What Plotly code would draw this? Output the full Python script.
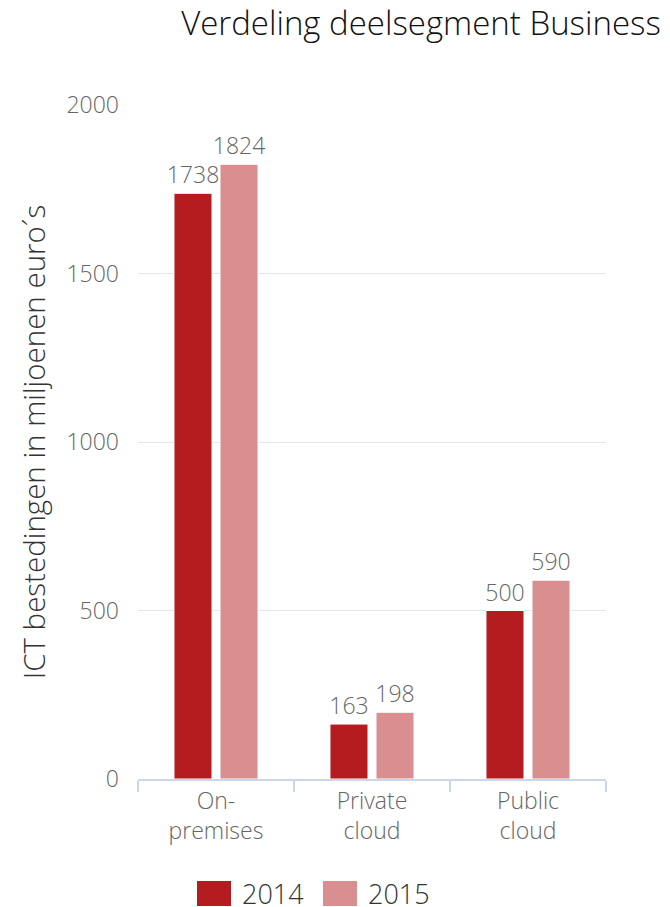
import plotly.graph_objects as go

categories = ["On-<br>premises", "Private<br>cloud", "Public<br>cloud"]
series_names = ["2014", "2015"]
values_2014 = [1738, 163, 500]
values_2015 = [1824, 198, 590]
colors = ["#b41c20", "#d98e8f"]
y_ticks = [0, 500, 1000, 1500, 2000]

FONT = "Open Sans"
# page body has an 8px margin, so the figure is 8px smaller and offset
W, H = 662, 899
L, R, T, B = 130, 64, 97, 128
PW, PH = W - L - R, H - T - B

fig = go.Figure()
for name, vals, col in zip(series_names, [values_2014, values_2015], colors):
    fig.add_trace(go.Bar(
        x=categories, y=vals, name=name,
        marker=dict(color=col, line=dict(color="white", width=1)),
        text=[str(v) for v in vals], textposition="outside",
        textfont=dict(family=FONT, size=23, color="#666666", weight=300),
        cliponaxis=False, constraintext="none", showlegend=False,
    ))

def px_x(p):
    return (p - L) / PW

def px_y(p):
    return (H - B - p) / PH

# manual legend (large swatches)
leg_x = [189, 315]
shapes = []
annotations = []
for i, (name, col) in enumerate(zip(series_names, colors)):
    x0 = leg_x[i]; x1 = x0 + 34; y0 = 873; y1 = 898
    shapes.append(dict(type="rect", xref="paper", yref="paper",
                       x0=px_x(x0), x1=px_x(x1), y0=px_y(y1), y1=px_y(y0),
                       fillcolor=col, line=dict(width=0), layer="above"))
    annotations.append(dict(text=name, xref="paper", yref="paper",
                            x=px_x(x1 + 9), y=px_y(885),
                            xanchor="left", yanchor="middle", showarrow=False,
                            font=dict(family=FONT, size=27, color="#333333", weight=300)))

fig.update_layout(
    width=W, height=H,
    margin=dict(l=L, r=R, t=T, b=B),
    paper_bgcolor="white", plot_bgcolor="white",
    title=dict(text="Verdeling deelsegment Business", x=413 / W, xanchor="center",
               y=1 - 15 / H, yanchor="middle", xref="container", yref="container",
               font=dict(family=FONT, size=33, color="#111111", weight=300)),
    barmode="group", bargap=0.41, bargroupgap=0.174,
    shapes=shapes, annotations=annotations,
    font=dict(family=FONT),
)
fig.update_xaxes(
    showline=True, linecolor="#ccd6eb", linewidth=2,
    ticks="outside", tickson="boundaries", ticklen=11, tickcolor="#ccd6eb", tickwidth=2,
    tickfont=dict(family=FONT, size=23, color="#666666", weight=300), showgrid=False,
)
fig.update_yaxes(
    range=[0, 2000], tickvals=y_ticks, ticktext=[str(v) for v in y_ticks],
    showgrid=True, gridcolor="#e6e6e6", gridwidth=1, zeroline=False,
    tickfont=dict(family=FONT, size=23, color="#666666", weight=300),
    ticks="", ticklabelstandoff=18,
    title=dict(text="ICT bestedingen in miljoenen euro´s", standoff=12,
               font=dict(family=FONT, size=29.5, color="#333333", weight=300)),
)

fig.write_html("out.html")
